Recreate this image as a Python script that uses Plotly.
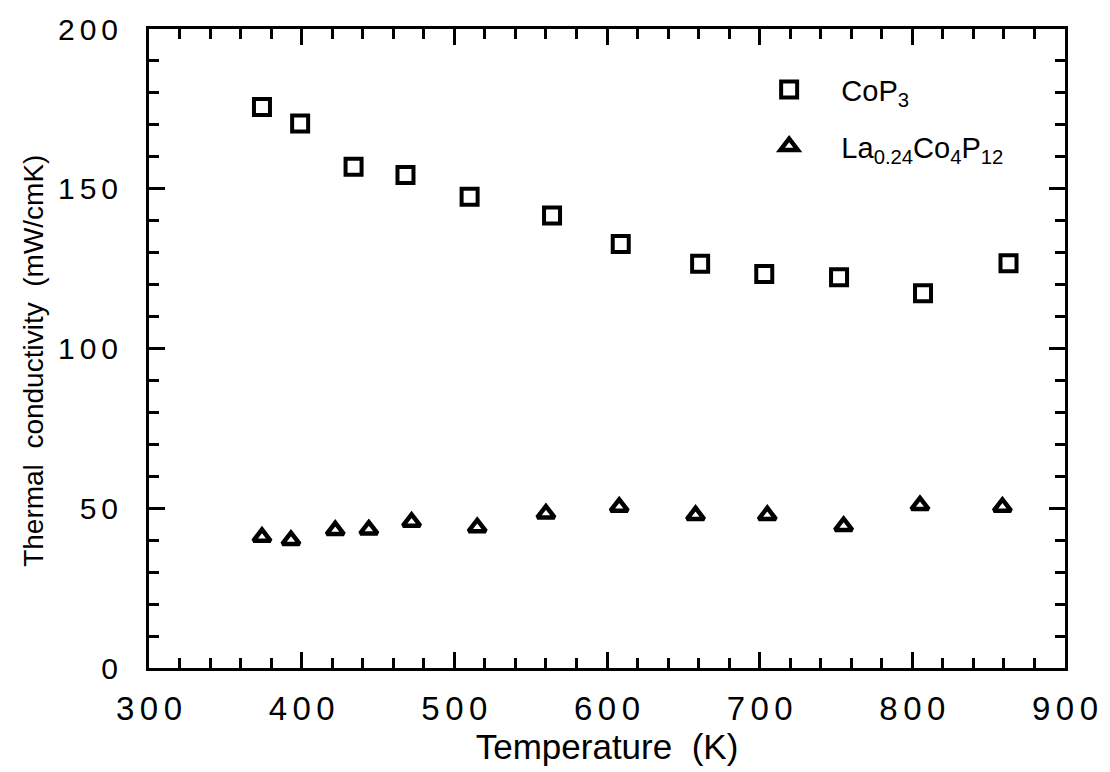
import plotly.graph_objects as go

# Thermal conductivity vs temperature
cop3_T = [374, 399, 434, 468, 510, 564, 609, 661, 703, 752, 807, 863]
cop3_k = [175.6, 170.4, 156.9, 154.3, 147.5, 141.6, 132.7, 126.5, 123.3, 122.3, 117.3, 126.7]

la_T = [374, 393, 422, 444, 472, 515, 560, 608, 658, 705, 755, 805, 859]
la_k = [41.0, 40.0, 43.1, 43.3, 45.7, 44.0, 48.3, 50.4, 47.8, 47.8, 44.4, 50.9, 50.4]

x_ticks = [300, 400, 500, 600, 700, 800, 900]
y_ticks = [0, 50, 100, 150, 200]

FONT = "Liberation Sans, Arial, Helvetica, sans-serif"
NB = "\u00a0" * 4


def spaced(v):
    # widen the digit spacing of tick labels
    return "\u2006".join(str(v))


fig = go.Figure()
fig.add_trace(go.Scatter(
    x=cop3_T, y=cop3_k, mode="markers",
    name=NB + "CoP<sub>3</sub>", legendgroup="a",
    marker=dict(symbol="square-open", size=16, color="black",
                line=dict(width=4, color="black")),
))
fig.add_trace(go.Scatter(
    x=la_T, y=la_k, mode="markers",
    name=NB + "La<sub>0.24</sub>Co<sub>4</sub>P<sub>12</sub>", legendgroup="b",
    marker=dict(symbol="triangle-up-open", size=15, color="black",
                line=dict(width=4.5, color="black")),
))

axis_common = dict(
    showline=True, linewidth=3, linecolor="black", mirror="ticks",
    ticks="inside", tickwidth=2.5, tickcolor="black",
    showgrid=False, zeroline=False,
)

fig.update_xaxes(
    range=[300, 900], tickvals=x_ticks, ticktext=[spaced(v) for v in x_ticks],
    ticklen=16,
    minor=dict(dtick=20, ticks="inside", ticklen=10, tickwidth=2.5,
               tickcolor="black", showgrid=False),
    tickfont=dict(family=FONT, size=33, color="black"),
    ticklabelstandoff=9,
    title=dict(text="Temperature  (K)", standoff=0,
               font=dict(family=FONT, size=35, color="black")),
    **axis_common,
)
fig.update_yaxes(
    range=[0, 200], tickvals=y_ticks, ticktext=[spaced(v) for v in y_ticks],
    ticklen=16,
    minor=dict(dtick=10, ticks="inside", ticklen=10, tickwidth=2.5,
               tickcolor="black", showgrid=False),
    tickfont=dict(family=FONT, size=30, color="black"),
    ticklabelstandoff=22,
    **axis_common,
)

fig.add_annotation(
    text="Thermal  conductivity  (mW/cmK)", textangle=-90,
    xref="paper", yref="paper", x=-0.126, y=0.48,
    xanchor="center", yanchor="middle", showarrow=False,
    font=dict(family=FONT, size=28, color="black"),
)

fig.update_layout(
    width=1110, height=772,
    margin=dict(l=149, r=41, t=28, b=104),
    paper_bgcolor="white", plot_bgcolor="white",
    showlegend=True,
    legend=dict(x=0.677, y=0.945, xanchor="left", yanchor="top",
                bgcolor="rgba(0,0,0,0)", tracegroupgap=16,
                font=dict(family=FONT, size=29, color="black")),
)

fig.write_html("out.html")
